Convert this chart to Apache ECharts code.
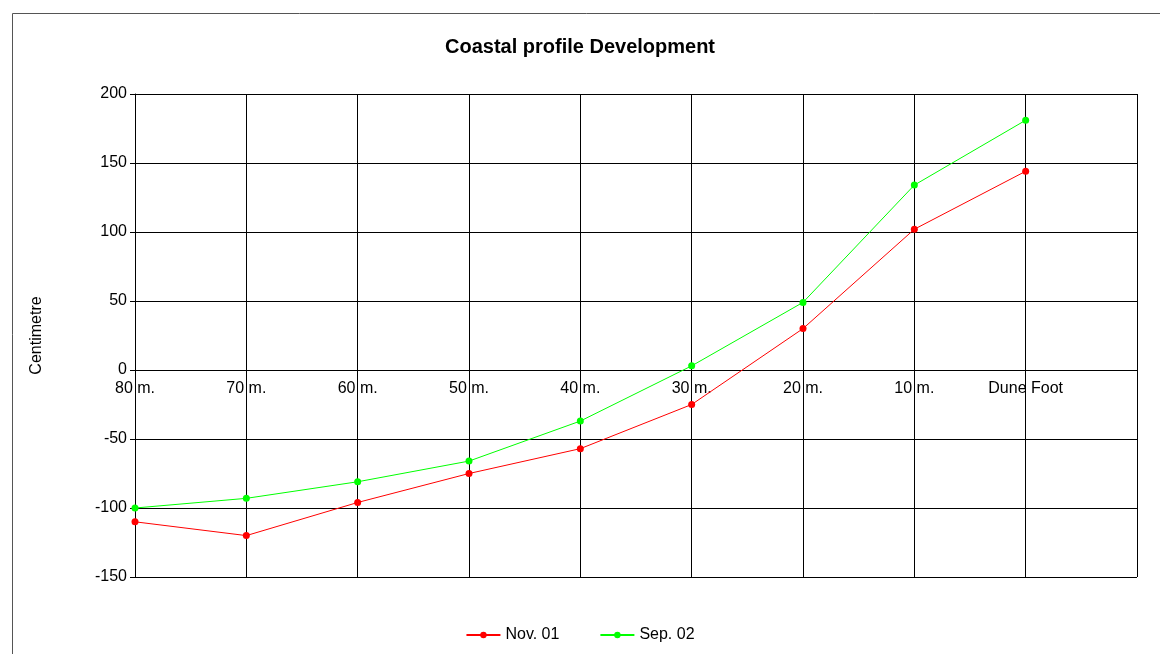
<!DOCTYPE html>
<html>
<head>
<meta charset="utf-8">
<script src="https://cdn.jsdelivr.net/npm/echarts@6/dist/echarts.min.js"></script>
<style>
  html, body { margin: 0; padding: 0; background: #fff; }
  #chart { width: 1160px; height: 654px; }
</style>
</head>
<body>
<div id="chart"></div>
<script>
// 数据
const categories = ['80 m.', '70 m.', '60 m.', '50 m.', '40 m.', '30 m.', '20 m.', '10 m.', 'Dune Foot', '']
const nov01 = [-110, -120, -96, -75, -57, -25, 30, 102, 144]
const sep02 = [-100, -93, -81, -66, -37, 3, 49, 134, 181]

const font = 'Arial, "Liberation Sans", sans-serif'
const chart = echarts.init(document.getElementById('chart'))

const option = {
  animation: false,
  textStyle: { fontFamily: font },
  title: {
    text: 'Coastal profile Development',
    left: 'center',
    top: 32,
    textStyle: { fontSize: 20, fontWeight: 'bold', color: '#000', fontFamily: font }
  },
  graphic: [
    {
      type: 'rect',
      shape: { x: 12.5, y: 13.5, width: 1200, height: 700 },
      style: { fill: 'none', stroke: '#555', lineWidth: 1 },
      silent: true
    }
  ],
  legend: {
    bottom: 6,
    left: 'center',
    itemWidth: 34,
    itemHeight: 8,
    itemGap: 40,
    textStyle: { fontSize: 16, color: '#000', fontFamily: font },
    data: ['Nov. 01', 'Sep. 02']
  },
  grid: { left: 135, right: 23, top: 94, bottom: 77 },
  xAxis: {
    type: 'category',
    data: categories,
    boundaryGap: false,
    // 轴放在 0 的位置
    offset: -207,
    axisLine: { onZero: false, lineStyle: { color: '#000', width: 1 } },
    axisTick: { show: false },
    axisLabel: { color: '#000', fontSize: 16, margin: 11, interval: 0 },
    splitLine: { show: true, lineStyle: { color: '#000', width: 1 } }
  },
  yAxis: {
    type: 'value',
    min: -150,
    max: 200,
    interval: 50,
    name: 'Centimetre',
    nameLocation: 'middle',
    nameGap: 90,
    nameRotate: 90,
    nameTextStyle: { fontSize: 16, color: '#000' },
    axisLine: { show: true, lineStyle: { color: '#000', width: 1 } },
    axisTick: { show: true, length: 5, lineStyle: { color: '#000' } },
    axisLabel: { color: '#000', fontSize: 16, margin: 8 },
    splitLine: { show: true, lineStyle: { color: '#000', width: 1 } }
  },
  series: [
    {
      name: 'Nov. 01',
      type: 'line',
      data: nov01,
      symbol: 'circle',
      symbolSize: 7,
      color: '#ff0000',
      lineStyle: { width: 1, color: '#ff0000' },
      itemStyle: { color: '#ff0000' }
    },
    {
      name: 'Sep. 02',
      type: 'line',
      data: sep02,
      symbol: 'circle',
      symbolSize: 7,
      color: '#00ff00',
      lineStyle: { width: 1, color: '#00ff00' },
      itemStyle: { color: '#00ff00' }
    }
  ]
}

chart.setOption(option)
</script>
</body>
</html>
